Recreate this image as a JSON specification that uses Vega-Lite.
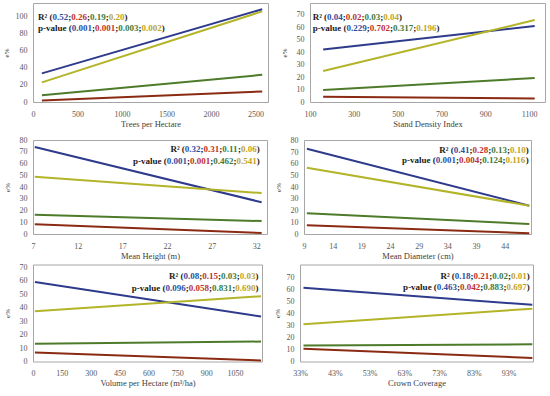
{
 "$schema": "https://vega.github.io/schema/vega-lite/v6.json",
 "padding": {"left": 1, "top": 2, "right": 0, "bottom": 0},
 "spacing": 7,
 "vconcat": [
  {"spacing": 10, "hconcat": [
   {"width": 235, "height": 99,
    "layer": [
     {"data": {"values": [
       {"series": "1", "x": 100, "y": 33.5}, {"series": "1", "x": 2575, "y": 108.5},
       {"series": "2", "x": 100, "y": 1.8}, {"series": "2", "x": 2575, "y": 12.3},
       {"series": "3", "x": 100, "y": 7.8}, {"series": "3", "x": 2575, "y": 31.8},
       {"series": "4", "x": 100, "y": 23}, {"series": "4", "x": 2575, "y": 106}]},
      "mark": {"type": "line", "strokeWidth": 2},
      "encoding": {
       "x": {"field": "x", "type": "quantitative", "scale": {"domain": [0, 2640], "nice": false, "zero": false}, "axis": {"values": [0, 500, 1000, 1500, 2000, 2500], "format": "d", "labelOverlap": false, "tickCount": 20, "title": "Trees per Hectare"}},
       "y": {"field": "y", "type": "quantitative", "scale": {"domain": [0, 115.8], "nice": false}, "axis": {"values": [0, 20, 40, 60, 80, 100], "format": "d", "labelOverlap": false, "tickCount": 20, "title": "e%"}},
       "color": {"field": "series", "type": "nominal", "scale": {"domain": ["1", "2", "3", "4"], "range": ["#2E3A8C", "#8B2A12", "#4E7B2A", "#B3B428"]}, "legend": null}}},
     {"data": {"values": [{"series": "1", "R2": "0.52", "p": "0.001"}, {"series": "2", "R2": "0.26", "p": "0.001"}, {"series": "3", "R2": "0.19", "p": "0.003"}, {"series": "4", "R2": "0.20", "p": "0.002"}]},
      "layer": [
       {"encoding": {"x": {"datum": 56}, "y": {"datum": 99.2}}, "layer": [
         {"transform": [{"filter": "datum.series=='1'"}], "mark": {"type": "text", "dx": 0, "text": "R² ("}},
         {"transform": [{"filter": "datum.series=='1'"}], "mark": {"type": "text", "dx": 14.45, "color": "#2F4FA0"}, "encoding": {"text": {"field": "R2"}}},
         {"transform": [{"filter": "datum.series=='1'"}], "mark": {"type": "text", "dx": 30.2, "text": ";"}},
         {"transform": [{"filter": "datum.series=='2'"}], "mark": {"type": "text", "dx": 33.2, "color": "#C0302A"}, "encoding": {"text": {"field": "R2"}}},
         {"transform": [{"filter": "datum.series=='1'"}], "mark": {"type": "text", "dx": 48.95, "text": ";"}},
         {"transform": [{"filter": "datum.series=='3'"}], "mark": {"type": "text", "dx": 51.95, "color": "#3E7B3E"}, "encoding": {"text": {"field": "R2"}}},
         {"transform": [{"filter": "datum.series=='1'"}], "mark": {"type": "text", "dx": 67.7, "text": ";"}},
         {"transform": [{"filter": "datum.series=='4'"}], "mark": {"type": "text", "dx": 70.7, "color": "#BFA425"}, "encoding": {"text": {"field": "R2"}}},
         {"transform": [{"filter": "datum.series=='1'"}], "mark": {"type": "text", "dx": 86.45, "text": ")"}}]},
       {"encoding": {"x": {"datum": 56}, "y": {"datum": 86.3}}, "layer": [
         {"transform": [{"filter": "datum.series=='1'"}], "mark": {"type": "text", "dx": 0, "text": "p-value ("}},
         {"transform": [{"filter": "datum.series=='1'"}], "mark": {"type": "text", "dx": 33.75, "color": "#2F4FA0"}, "encoding": {"text": {"field": "p"}}},
         {"transform": [{"filter": "datum.series=='1'"}], "mark": {"type": "text", "dx": 54.0, "text": ";"}},
         {"transform": [{"filter": "datum.series=='2'"}], "mark": {"type": "text", "dx": 57.0, "color": "#C0302A"}, "encoding": {"text": {"field": "p"}}},
         {"transform": [{"filter": "datum.series=='1'"}], "mark": {"type": "text", "dx": 77.25, "text": ";"}},
         {"transform": [{"filter": "datum.series=='3'"}], "mark": {"type": "text", "dx": 80.25, "color": "#3E7B3E"}, "encoding": {"text": {"field": "p"}}},
         {"transform": [{"filter": "datum.series=='1'"}], "mark": {"type": "text", "dx": 100.5, "text": ";"}},
         {"transform": [{"filter": "datum.series=='4'"}], "mark": {"type": "text", "dx": 103.5, "color": "#BFA425"}, "encoding": {"text": {"field": "p"}}},
         {"transform": [{"filter": "datum.series=='1'"}], "mark": {"type": "text", "dx": 123.75, "text": ")"}}]}
      ]}
    ]},
   {"width": 235, "height": 99,
    "layer": [
     {"data": {"values": [
       {"series": "1", "x": 160, "y": 42.2}, {"series": "1", "x": 1125, "y": 61},
       {"series": "2", "x": 160, "y": 4.2}, {"series": "2", "x": 1125, "y": 2.8},
       {"series": "3", "x": 160, "y": 9.6}, {"series": "3", "x": 1125, "y": 19.2},
       {"series": "4", "x": 160, "y": 24.9}, {"series": "4", "x": 1125, "y": 65.8}]},
      "mark": {"type": "line", "strokeWidth": 2},
      "encoding": {
       "x": {"field": "x", "type": "quantitative", "scale": {"domain": [100, 1172], "nice": false, "zero": false}, "axis": {"values": [100, 300, 500, 700, 900, 1100], "format": "d", "labelOverlap": false, "tickCount": 20, "title": "Stand Density Index"}},
       "y": {"field": "y", "type": "quantitative", "scale": {"domain": [0, 79.5], "nice": false}, "axis": {"values": [0, 10, 20, 30, 40, 50, 60, 70], "format": "d", "labelOverlap": false, "tickCount": 20, "title": "e%", "titlePadding": 9}},
       "color": {"field": "series", "type": "nominal", "scale": {"domain": ["1", "2", "3", "4"], "range": ["#2E3A8C", "#8B2A12", "#4E7B2A", "#B3B428"]}, "legend": null}}},
     {"data": {"values": [{"series": "1", "R2": "0.04", "p": "0.229"}, {"series": "2", "R2": "0.02", "p": "0.702"}, {"series": "3", "R2": "0.03", "p": "0.317"}, {"series": "4", "R2": "0.04", "p": "0.196"}]},
      "layer": [
       {"encoding": {"x": {"datum": 112}, "y": {"datum": 68.6}}, "layer": [
         {"transform": [{"filter": "datum.series=='1'"}], "mark": {"type": "text", "dx": 0, "text": "R² ("}},
         {"transform": [{"filter": "datum.series=='1'"}], "mark": {"type": "text", "dx": 14.45, "color": "#2F4FA0"}, "encoding": {"text": {"field": "R2"}}},
         {"transform": [{"filter": "datum.series=='1'"}], "mark": {"type": "text", "dx": 30.2, "text": ";"}},
         {"transform": [{"filter": "datum.series=='2'"}], "mark": {"type": "text", "dx": 33.2, "color": "#C0302A"}, "encoding": {"text": {"field": "R2"}}},
         {"transform": [{"filter": "datum.series=='1'"}], "mark": {"type": "text", "dx": 48.95, "text": ";"}},
         {"transform": [{"filter": "datum.series=='3'"}], "mark": {"type": "text", "dx": 51.95, "color": "#3E7B3E"}, "encoding": {"text": {"field": "R2"}}},
         {"transform": [{"filter": "datum.series=='1'"}], "mark": {"type": "text", "dx": 67.7, "text": ";"}},
         {"transform": [{"filter": "datum.series=='4'"}], "mark": {"type": "text", "dx": 70.7, "color": "#BFA425"}, "encoding": {"text": {"field": "R2"}}},
         {"transform": [{"filter": "datum.series=='1'"}], "mark": {"type": "text", "dx": 86.45, "text": ")"}}]},
       {"encoding": {"x": {"datum": 112}, "y": {"datum": 59.2}}, "layer": [
         {"transform": [{"filter": "datum.series=='1'"}], "mark": {"type": "text", "dx": 0, "text": "p-value ("}},
         {"transform": [{"filter": "datum.series=='1'"}], "mark": {"type": "text", "dx": 33.75, "color": "#2F4FA0"}, "encoding": {"text": {"field": "p"}}},
         {"transform": [{"filter": "datum.series=='1'"}], "mark": {"type": "text", "dx": 54.0, "text": ";"}},
         {"transform": [{"filter": "datum.series=='2'"}], "mark": {"type": "text", "dx": 57.0, "color": "#C0302A"}, "encoding": {"text": {"field": "p"}}},
         {"transform": [{"filter": "datum.series=='1'"}], "mark": {"type": "text", "dx": 77.25, "text": ";"}},
         {"transform": [{"filter": "datum.series=='3'"}], "mark": {"type": "text", "dx": 80.25, "color": "#3E7B3E"}, "encoding": {"text": {"field": "p"}}},
         {"transform": [{"filter": "datum.series=='1'"}], "mark": {"type": "text", "dx": 100.5, "text": ";"}},
         {"transform": [{"filter": "datum.series=='4'"}], "mark": {"type": "text", "dx": 103.5, "color": "#BFA425"}, "encoding": {"text": {"field": "p"}}},
         {"transform": [{"filter": "datum.series=='1'"}], "mark": {"type": "text", "dx": 123.75, "text": ")"}}]}
      ]}
    ]}
  ]},
  {"spacing": 2.5, "vconcat": [
   {"spacing": 5, "hconcat": [
    {"width": 234, "height": 94,
     "layer": [
      {"data": {"values": [
        {"series": "1", "x": 7.2, "y": 74}, {"series": "1", "x": 32.6, "y": 27},
        {"series": "2", "x": 7.2, "y": 8.2}, {"series": "2", "x": 32.6, "y": 0.8},
        {"series": "3", "x": 7.2, "y": 16.4}, {"series": "3", "x": 32.6, "y": 11},
        {"series": "4", "x": 7.2, "y": 48.8}, {"series": "4", "x": 32.6, "y": 34.8}]},
       "mark": {"type": "line", "strokeWidth": 2},
       "encoding": {
        "x": {"field": "x", "type": "quantitative", "scale": {"domain": [7, 33.2], "nice": false, "zero": false}, "axis": {"values": [7, 12, 17, 22, 27, 32], "format": "d", "labelOverlap": false, "tickCount": 20, "title": "Mean Height (m)"}},
        "y": {"field": "y", "type": "quantitative", "scale": {"domain": [0, 80], "nice": false}, "axis": {"values": [0, 10, 20, 30, 40, 50, 60, 70, 80], "format": "d", "labelOverlap": false, "tickCount": 20, "title": "e%", "titlePadding": 9}},
        "color": {"field": "series", "type": "nominal", "scale": {"domain": ["1", "2", "3", "4"], "range": ["#2E3A8C", "#8B2A12", "#4E7B2A", "#B3B428"]}, "legend": null}}},
      {"data": {"values": [{"series": "1", "R2": "0.32", "p": "0.001"}, {"series": "2", "R2": "0.31", "p": "0.001"}, {"series": "3", "R2": "0.11", "p": "0.462"}, {"series": "4", "R2": "0.06", "p": "0.541"}]},
       "layer": [
        {"encoding": {"x": {"datum": 32.4}, "y": {"datum": 72.3}}, "layer": [
          {"transform": [{"filter": "datum.series=='1'"}], "mark": {"type": "text", "dx": -89.45, "text": "R² ("}},
          {"transform": [{"filter": "datum.series=='1'"}], "mark": {"type": "text", "dx": -75.0, "color": "#2F4FA0"}, "encoding": {"text": {"field": "R2"}}},
          {"transform": [{"filter": "datum.series=='1'"}], "mark": {"type": "text", "dx": -59.25, "text": ";"}},
          {"transform": [{"filter": "datum.series=='2'"}], "mark": {"type": "text", "dx": -56.25, "color": "#C0302A"}, "encoding": {"text": {"field": "R2"}}},
          {"transform": [{"filter": "datum.series=='1'"}], "mark": {"type": "text", "dx": -40.5, "text": ";"}},
          {"transform": [{"filter": "datum.series=='3'"}], "mark": {"type": "text", "dx": -37.5, "color": "#3E7B3E"}, "encoding": {"text": {"field": "R2"}}},
          {"transform": [{"filter": "datum.series=='1'"}], "mark": {"type": "text", "dx": -21.75, "text": ";"}},
          {"transform": [{"filter": "datum.series=='4'"}], "mark": {"type": "text", "dx": -18.75, "color": "#BFA425"}, "encoding": {"text": {"field": "R2"}}},
          {"transform": [{"filter": "datum.series=='1'"}], "mark": {"type": "text", "dx": -3.0, "text": ")"}}]},
        {"encoding": {"x": {"datum": 32.4}, "y": {"datum": 62.4}}, "layer": [
          {"transform": [{"filter": "datum.series=='1'"}], "mark": {"type": "text", "dx": -126.75, "text": "p-value ("}},
          {"transform": [{"filter": "datum.series=='1'"}], "mark": {"type": "text", "dx": -93.0, "color": "#2F4FA0"}, "encoding": {"text": {"field": "p"}}},
          {"transform": [{"filter": "datum.series=='1'"}], "mark": {"type": "text", "dx": -72.75, "text": ";"}},
          {"transform": [{"filter": "datum.series=='2'"}], "mark": {"type": "text", "dx": -69.75, "color": "#C0302A"}, "encoding": {"text": {"field": "p"}}},
          {"transform": [{"filter": "datum.series=='1'"}], "mark": {"type": "text", "dx": -49.5, "text": ";"}},
          {"transform": [{"filter": "datum.series=='3'"}], "mark": {"type": "text", "dx": -46.5, "color": "#3E7B3E"}, "encoding": {"text": {"field": "p"}}},
          {"transform": [{"filter": "datum.series=='1'"}], "mark": {"type": "text", "dx": -26.25, "text": ";"}},
          {"transform": [{"filter": "datum.series=='4'"}], "mark": {"type": "text", "dx": -23.25, "color": "#BFA425"}, "encoding": {"text": {"field": "p"}}},
          {"transform": [{"filter": "datum.series=='1'"}], "mark": {"type": "text", "dx": -3.0, "text": ")"}}]}
       ]}
     ]},
    {"width": 227, "height": 94,
     "layer": [
      {"data": {"values": [
        {"series": "1", "x": 9.5, "y": 72.9}, {"series": "1", "x": 48.3, "y": 24.2},
        {"series": "2", "x": 9.5, "y": 7.4}, {"series": "2", "x": 48.3, "y": 0.6},
        {"series": "3", "x": 9.5, "y": 17.8}, {"series": "3", "x": 48.3, "y": 8.6},
        {"series": "4", "x": 9.5, "y": 56.6}, {"series": "4", "x": 48.3, "y": 24.2}]},
       "mark": {"type": "line", "strokeWidth": 2},
       "encoding": {
        "x": {"field": "x", "type": "quantitative", "scale": {"domain": [9, 48.6], "nice": false, "zero": false}, "axis": {"values": [9, 14, 19, 24, 29, 34, 39, 44], "format": "d", "labelOverlap": false, "tickCount": 20, "title": "Mean Diameter (cm)"}},
        "y": {"field": "y", "type": "quantitative", "scale": {"domain": [0, 80.3], "nice": false}, "axis": {"values": [0, 10, 20, 30, 40, 50, 60, 70, 80], "format": "d", "labelOverlap": false, "tickCount": 20, "title": "e%", "titlePadding": 9}},
        "color": {"field": "series", "type": "nominal", "scale": {"domain": ["1", "2", "3", "4"], "range": ["#2E3A8C", "#8B2A12", "#4E7B2A", "#B3B428"]}, "legend": null}}},
      {"data": {"values": [{"series": "1", "R2": "0.41", "p": "0.001"}, {"series": "2", "R2": "0.28", "p": "0.004"}, {"series": "3", "R2": "0.13", "p": "0.124"}, {"series": "4", "R2": "0.10", "p": "0.116"}]},
       "layer": [
        {"encoding": {"x": {"datum": 48.2}, "y": {"datum": 72}}, "layer": [
          {"transform": [{"filter": "datum.series=='1'"}], "mark": {"type": "text", "dx": -89.45, "text": "R² ("}},
          {"transform": [{"filter": "datum.series=='1'"}], "mark": {"type": "text", "dx": -75.0, "color": "#2F4FA0"}, "encoding": {"text": {"field": "R2"}}},
          {"transform": [{"filter": "datum.series=='1'"}], "mark": {"type": "text", "dx": -59.25, "text": ";"}},
          {"transform": [{"filter": "datum.series=='2'"}], "mark": {"type": "text", "dx": -56.25, "color": "#C0302A"}, "encoding": {"text": {"field": "R2"}}},
          {"transform": [{"filter": "datum.series=='1'"}], "mark": {"type": "text", "dx": -40.5, "text": ";"}},
          {"transform": [{"filter": "datum.series=='3'"}], "mark": {"type": "text", "dx": -37.5, "color": "#3E7B3E"}, "encoding": {"text": {"field": "R2"}}},
          {"transform": [{"filter": "datum.series=='1'"}], "mark": {"type": "text", "dx": -21.75, "text": ";"}},
          {"transform": [{"filter": "datum.series=='4'"}], "mark": {"type": "text", "dx": -18.75, "color": "#BFA425"}, "encoding": {"text": {"field": "R2"}}},
          {"transform": [{"filter": "datum.series=='1'"}], "mark": {"type": "text", "dx": -3.0, "text": ")"}}]},
        {"encoding": {"x": {"datum": 48.2}, "y": {"datum": 62.9}}, "layer": [
          {"transform": [{"filter": "datum.series=='1'"}], "mark": {"type": "text", "dx": -126.75, "text": "p-value ("}},
          {"transform": [{"filter": "datum.series=='1'"}], "mark": {"type": "text", "dx": -93.0, "color": "#2F4FA0"}, "encoding": {"text": {"field": "p"}}},
          {"transform": [{"filter": "datum.series=='1'"}], "mark": {"type": "text", "dx": -72.75, "text": ";"}},
          {"transform": [{"filter": "datum.series=='2'"}], "mark": {"type": "text", "dx": -69.75, "color": "#C0302A"}, "encoding": {"text": {"field": "p"}}},
          {"transform": [{"filter": "datum.series=='1'"}], "mark": {"type": "text", "dx": -49.5, "text": ";"}},
          {"transform": [{"filter": "datum.series=='3'"}], "mark": {"type": "text", "dx": -46.5, "color": "#3E7B3E"}, "encoding": {"text": {"field": "p"}}},
          {"transform": [{"filter": "datum.series=='1'"}], "mark": {"type": "text", "dx": -26.25, "text": ";"}},
          {"transform": [{"filter": "datum.series=='4'"}], "mark": {"type": "text", "dx": -23.25, "color": "#BFA425"}, "encoding": {"text": {"field": "p"}}},
          {"transform": [{"filter": "datum.series=='1'"}], "mark": {"type": "text", "dx": -3.0, "text": ")"}}]}
       ]}
     ]}
   ]},
   {"spacing": 6, "hconcat": [
    {"width": 229, "height": 97,
     "layer": [
      {"data": {"values": [
        {"series": "1", "x": 10, "y": 59}, {"series": "1", "x": 1185, "y": 33.4},
        {"series": "2", "x": 10, "y": 6.7}, {"series": "2", "x": 1185, "y": 0.8},
        {"series": "3", "x": 10, "y": 13.2}, {"series": "3", "x": 1185, "y": 14.8},
        {"series": "4", "x": 10, "y": 37.3}, {"series": "4", "x": 1185, "y": 48.5}]},
       "mark": {"type": "line", "strokeWidth": 2},
       "encoding": {
        "x": {"field": "x", "type": "quantitative", "scale": {"domain": [0, 1190], "nice": false, "zero": false}, "axis": {"values": [0, 150, 300, 450, 600, 750, 900, 1050], "format": "d", "labelOverlap": false, "tickCount": 20, "title": "Volume per Hectare (m³/ha)"}},
        "y": {"field": "y", "type": "quantitative", "scale": {"domain": [0, 72], "nice": false}, "axis": {"values": [0, 10, 20, 30, 40, 50, 60, 70], "format": "d", "labelOverlap": false, "tickCount": 20, "title": "e%", "titlePadding": 9}},
        "color": {"field": "series", "type": "nominal", "scale": {"domain": ["1", "2", "3", "4"], "range": ["#2E3A8C", "#8B2A12", "#4E7B2A", "#B3B428"]}, "legend": null}}},
      {"data": {"values": [{"series": "1", "R2": "0.08", "p": "0.096"}, {"series": "2", "R2": "0.15", "p": "0.058"}, {"series": "3", "R2": "0.03", "p": "0.831"}, {"series": "4", "R2": "0.03", "p": "0.690"}]},
       "layer": [
        {"encoding": {"x": {"datum": 1172}, "y": {"datum": 63.1}}, "layer": [
          {"transform": [{"filter": "datum.series=='1'"}], "mark": {"type": "text", "dx": -89.45, "text": "R² ("}},
          {"transform": [{"filter": "datum.series=='1'"}], "mark": {"type": "text", "dx": -75.0, "color": "#2F4FA0"}, "encoding": {"text": {"field": "R2"}}},
          {"transform": [{"filter": "datum.series=='1'"}], "mark": {"type": "text", "dx": -59.25, "text": ";"}},
          {"transform": [{"filter": "datum.series=='2'"}], "mark": {"type": "text", "dx": -56.25, "color": "#C0302A"}, "encoding": {"text": {"field": "R2"}}},
          {"transform": [{"filter": "datum.series=='1'"}], "mark": {"type": "text", "dx": -40.5, "text": ";"}},
          {"transform": [{"filter": "datum.series=='3'"}], "mark": {"type": "text", "dx": -37.5, "color": "#3E7B3E"}, "encoding": {"text": {"field": "R2"}}},
          {"transform": [{"filter": "datum.series=='1'"}], "mark": {"type": "text", "dx": -21.75, "text": ";"}},
          {"transform": [{"filter": "datum.series=='4'"}], "mark": {"type": "text", "dx": -18.75, "color": "#BFA425"}, "encoding": {"text": {"field": "R2"}}},
          {"transform": [{"filter": "datum.series=='1'"}], "mark": {"type": "text", "dx": -3.0, "text": ")"}}]},
        {"encoding": {"x": {"datum": 1172}, "y": {"datum": 54.9}}, "layer": [
          {"transform": [{"filter": "datum.series=='1'"}], "mark": {"type": "text", "dx": -126.75, "text": "p-value ("}},
          {"transform": [{"filter": "datum.series=='1'"}], "mark": {"type": "text", "dx": -93.0, "color": "#2F4FA0"}, "encoding": {"text": {"field": "p"}}},
          {"transform": [{"filter": "datum.series=='1'"}], "mark": {"type": "text", "dx": -72.75, "text": ";"}},
          {"transform": [{"filter": "datum.series=='2'"}], "mark": {"type": "text", "dx": -69.75, "color": "#C0302A"}, "encoding": {"text": {"field": "p"}}},
          {"transform": [{"filter": "datum.series=='1'"}], "mark": {"type": "text", "dx": -49.5, "text": ";"}},
          {"transform": [{"filter": "datum.series=='3'"}], "mark": {"type": "text", "dx": -46.5, "color": "#3E7B3E"}, "encoding": {"text": {"field": "p"}}},
          {"transform": [{"filter": "datum.series=='1'"}], "mark": {"type": "text", "dx": -26.25, "text": ";"}},
          {"transform": [{"filter": "datum.series=='4'"}], "mark": {"type": "text", "dx": -23.25, "color": "#BFA425"}, "encoding": {"text": {"field": "p"}}},
          {"transform": [{"filter": "datum.series=='1'"}], "mark": {"type": "text", "dx": -3.0, "text": ")"}}]}
       ]}
     ]},
    {"width": 233, "height": 97,
     "layer": [
      {"data": {"values": [
        {"series": "1", "x": 0.34, "y": 61.2}, {"series": "1", "x": 0.998, "y": 47},
        {"series": "2", "x": 0.34, "y": 10.6}, {"series": "2", "x": 0.998, "y": 2.9},
        {"series": "3", "x": 0.34, "y": 13.2}, {"series": "3", "x": 0.998, "y": 14.3},
        {"series": "4", "x": 0.34, "y": 31}, {"series": "4", "x": 0.998, "y": 43.8}]},
       "mark": {"type": "line", "strokeWidth": 2},
       "encoding": {
        "x": {"field": "x", "type": "quantitative", "scale": {"domain": [0.33, 1.0], "nice": false, "zero": false}, "axis": {"values": [0.33, 0.43, 0.53, 0.63, 0.73, 0.83, 0.93], "format": ".0%", "labelOverlap": false, "tickCount": 20, "title": "Crown Coverage"}},
        "y": {"field": "y", "type": "quantitative", "scale": {"domain": [0, 80.5], "nice": false}, "axis": {"values": [0, 10, 20, 30, 40, 50, 60, 70], "format": "d", "labelOverlap": false, "tickCount": 20, "title": "e%", "titlePadding": 6}},
        "color": {"field": "series", "type": "nominal", "scale": {"domain": ["1", "2", "3", "4"], "range": ["#2E3A8C", "#8B2A12", "#4E7B2A", "#B3B428"]}, "legend": null}}},
      {"data": {"values": [{"series": "1", "R2": "0.18", "p": "0.463"}, {"series": "2", "R2": "0.21", "p": "0.042"}, {"series": "3", "R2": "0.02", "p": "0.883"}, {"series": "4", "R2": "0.01", "p": "0.697"}]},
       "layer": [
        {"encoding": {"x": {"datum": 0.991}, "y": {"datum": 70.6}}, "layer": [
          {"transform": [{"filter": "datum.series=='1'"}], "mark": {"type": "text", "dx": -89.45, "text": "R² ("}},
          {"transform": [{"filter": "datum.series=='1'"}], "mark": {"type": "text", "dx": -75.0, "color": "#2F4FA0"}, "encoding": {"text": {"field": "R2"}}},
          {"transform": [{"filter": "datum.series=='1'"}], "mark": {"type": "text", "dx": -59.25, "text": ";"}},
          {"transform": [{"filter": "datum.series=='2'"}], "mark": {"type": "text", "dx": -56.25, "color": "#C0302A"}, "encoding": {"text": {"field": "R2"}}},
          {"transform": [{"filter": "datum.series=='1'"}], "mark": {"type": "text", "dx": -40.5, "text": ";"}},
          {"transform": [{"filter": "datum.series=='3'"}], "mark": {"type": "text", "dx": -37.5, "color": "#3E7B3E"}, "encoding": {"text": {"field": "R2"}}},
          {"transform": [{"filter": "datum.series=='1'"}], "mark": {"type": "text", "dx": -21.75, "text": ";"}},
          {"transform": [{"filter": "datum.series=='4'"}], "mark": {"type": "text", "dx": -18.75, "color": "#BFA425"}, "encoding": {"text": {"field": "R2"}}},
          {"transform": [{"filter": "datum.series=='1'"}], "mark": {"type": "text", "dx": -3.0, "text": ")"}}]},
        {"encoding": {"x": {"datum": 0.991}, "y": {"datum": 61.5}}, "layer": [
          {"transform": [{"filter": "datum.series=='1'"}], "mark": {"type": "text", "dx": -126.75, "text": "p-value ("}},
          {"transform": [{"filter": "datum.series=='1'"}], "mark": {"type": "text", "dx": -93.0, "color": "#2F4FA0"}, "encoding": {"text": {"field": "p"}}},
          {"transform": [{"filter": "datum.series=='1'"}], "mark": {"type": "text", "dx": -72.75, "text": ";"}},
          {"transform": [{"filter": "datum.series=='2'"}], "mark": {"type": "text", "dx": -69.75, "color": "#C0302A"}, "encoding": {"text": {"field": "p"}}},
          {"transform": [{"filter": "datum.series=='1'"}], "mark": {"type": "text", "dx": -49.5, "text": ";"}},
          {"transform": [{"filter": "datum.series=='3'"}], "mark": {"type": "text", "dx": -46.5, "color": "#3E7B3E"}, "encoding": {"text": {"field": "p"}}},
          {"transform": [{"filter": "datum.series=='1'"}], "mark": {"type": "text", "dx": -26.25, "text": ";"}},
          {"transform": [{"filter": "datum.series=='4'"}], "mark": {"type": "text", "dx": -23.25, "color": "#BFA425"}, "encoding": {"text": {"field": "p"}}},
          {"transform": [{"filter": "datum.series=='1'"}], "mark": {"type": "text", "dx": -3.0, "text": ")"}}]}
       ]}
     ]}
   ]}
  ]}
 ],
 "config": {
  "font": "Liberation Serif",
  "view": {"stroke": "#A6A6A6", "strokeWidth": 1},
  "axis": {"domain": false, "ticks": false, "grid": false, "labelOverlap": false, "labelFlush": false, "tickCount": 20, "labelFont": "Liberation Serif", "labelFontSize": 8, "labelColor": "#595959", "labelPadding": 6, "titleFont": "Liberation Serif", "titleFontSize": 8.5, "titleFontWeight": "normal", "titleColor": "#404040"},
  "axisX": {"labelPadding": 8, "titlePadding": 1},
  "axisY": {"titleFontSize": 7, "titlePadding": 6},
  "text": {"font": "Liberation Serif", "fontSize": 9, "fontWeight": "bold", "baseline": "middle", "align": "left", "color": "#1a1a1a"}
 }
}
